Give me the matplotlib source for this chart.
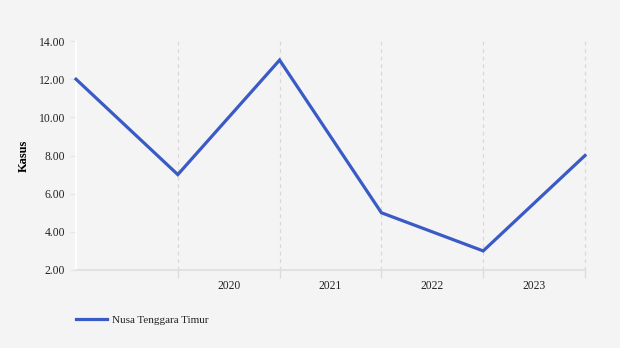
import matplotlib
matplotlib.use("Agg")
import matplotlib.pyplot as plt

years = ["2020", "2021", "2022", "2023"]
series_name = "Nusa Tenggara Timur"
cases = [12, 7, 13, 5, 3, 8]
y_ticks = [2, 4, 6, 8, 10, 12, 14]

plt.rcParams["font.family"] = ["Liberation Serif", "DejaVu Serif"]

bg = "#f4f4f4"
fig = plt.figure(figsize=(6.2, 3.48), dpi=100, facecolor=bg)
ax = fig.add_axes([76 / 620, 78 / 348, 509 / 620, 229 / 348], facecolor=bg)

x = list(range(len(cases)))
ax.plot(x, cases, color="#3a5bc6", lw=2.3, solid_joinstyle="miter", clip_on=False,
        label=series_name, zorder=3)

ax.set_xlim(0, len(cases) - 1)
ax.set_ylim(2, 14)

# vertical dashed grid at category boundaries
for xi in x[1:]:
    ax.axvline(xi, color="#d8d8d8", lw=0.9, ls=(0, (3, 3)), zorder=1, clip_on=False)

ax.set_xticks(x[1:])
ax.set_xticklabels([])
ax.set_xticks([i + 0.5 for i in range(1, len(years) + 1)], labels=years, minor=True)
ax.tick_params(axis="x", which="major", length=6, color="#dcdcdc", width=1)
ax.tick_params(axis="x", which="minor", length=0, pad=7, labelsize=8.4, labelcolor="#222222")

ax.set_yticks(y_ticks)
ax.set_yticklabels([f"{v:.2f}" for v in y_ticks])
ax.tick_params(axis="y", length=4, color="#e6e6e6", width=1, labelsize=8.4,
               labelcolor="#222222", pad=4)

for s in ["top", "right"]:
    ax.spines[s].set_visible(False)
ax.spines["bottom"].set_color("#dedede")
ax.spines["bottom"].set_linewidth(1.2)
ax.spines["left"].set_color("#ffffff")
ax.spines["left"].set_linewidth(1.2)

ax.set_ylabel("Kasus", fontsize=9, fontweight="bold", labelpad=6)

leg = fig.legend(loc="lower left", bbox_to_anchor=(66 / 620, 13 / 348), frameon=False,
                 fontsize=8, handlelength=2.8, handletextpad=0.4)
for t in leg.get_texts():
    t.set_color("#222222")

fig.savefig("out.png", dpi=100, facecolor=bg)
